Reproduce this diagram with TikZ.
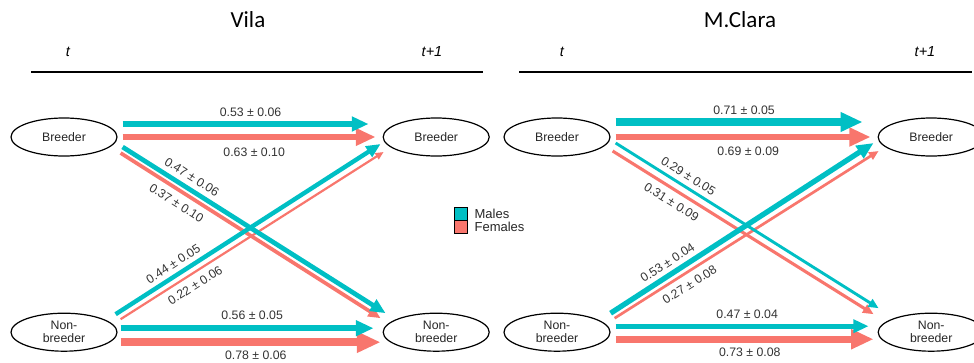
\documentclass[tikz,border=0pt]{standalone}
\usepackage{fontspec}
\setmainfont{Liberation Sans}
\newfontfamily\titlefont{Carlito}
\usetikzlibrary{positioning,shapes.geometric,arrows.meta}
\definecolor{mcol}{HTML}{00BFC4}
\definecolor{fcol}{HTML}{F8766D}

\begin{document}
\begin{tikzpicture}[x=1pt, y=-1pt, > = {Triangle[length=2pt 2.8, width=2pt 2.3]}]
    \tikzset{
      state/.style={draw, ellipse, line width=1.2pt, minimum width=106pt, minimum height=38pt,
        inner sep=0pt, align=center, text=black!85, font=\fontsize{12.3}{13}\selectfont},
      male/.style={->, mcol},
      female/.style={->, fcol},
      lab/.style={inner sep=3pt, text=black!80, font=\fontsize{12.3}{14}\selectfont},
      hdr/.style={font=\fontsize{14.5}{16}\selectfont\itshape},
      ttl/.style={font=\titlefont\fontsize{23}{26}\selectfont},
      legbox/.style={draw, line width=0.8pt, minimum width=13pt, minimum height=13pt, inner sep=0pt},
    }
    \useasboundingbox (0,0) rectangle (974,362);

    % Vila
    \node [ttl] (vila) at (248,20) {Vila};
    \node [hdr] (vt0) at (68,52) {t};
    \node [hdr] (vt1) at (432,52) {t+1};
    \draw [line width=1.3pt] (31,72) -- (483,72);
    \node [state] (vb0) at (64,137) {Breeder};
    \node [state, right=265pt of vb0] (vb1) {Breeder};
    \node [state, below=156pt of vb0] (vn0) {Non-\\breeder};
    \node [state, below=156pt of vb1] (vn1) {Non-\\breeder};

    \draw [female, line width=6.3pt] ([shift={(5,0)}]vb0.east) -- node [lab, below=5pt, pos=.52] (v2) {0.63 ± 0.10} ([shift={(-7,0)}]vb1.west);
    \draw [male, line width=5.3pt] ([shift={(5,-13)}]vb0.east) -- node [lab, above=2pt, pos=.52] (v1) {0.53 ± 0.06} ([shift={(-14,-13)}]vb1.west);
    \draw [female, line width=3.7pt] ([shift={(3,16)}]vb0.east) -- node [lab, sloped, below=3pt, pos=.24] (v4) {0.37 ± 0.10} ([shift={(-2,-14)}]vn1.west);
    \draw [female, line width=2.2pt] ([shift={(3,-13)}]vn0.east) -- node [lab, sloped, below=3pt, pos=.26] (v6) {0.22 ± 0.06} ([shift={(1,15)}]vb1.west);
    \draw [male, line width=4.7pt] ([shift={(5,10)}]vb0.east) -- node [lab, sloped, above=2pt, pos=.24] (v3) {0.47 ± 0.06} ([shift={(3,-19)}]vn1.west);
    \draw [male, line width=4.4pt] ([shift={(-2,-18)}]vn0.east) -- node [lab, sloped, above=1.5pt, pos=.24] (v5) {0.44 ± 0.05} ([shift={(-2,7)}]vb1.west);
    \draw [female, line width=7.8pt] ([shift={(3,10)}]vn0.east) -- node [lab, below=1.5pt, pos=.52] (v8) {0.78 ± 0.06} ([shift={(-2,10)}]vn1.west);
    \draw [male, line width=5.6pt] ([shift={(3,-4)}]vn0.east) -- node [lab, above=3pt, pos=.52] (v7) {0.56 ± 0.05} ([shift={(-9,-4)}]vn1.west);

    % legend
    \node [legbox, fill=mcol] (mbox) at (460.5,213.5) {};
    \node [legbox, fill=fcol, below=0pt of mbox] (fbox) {};
    \node [lab, text=black!85, font=\fontsize{13}{15}\selectfont, right=4pt of mbox] (mtxt) {Males};
    \node [lab, text=black!85, font=\fontsize{13}{15}\selectfont, right=4pt of fbox] (ftxt) {Females};

    % M.Clara
    \node [ttl] (mcla) at (740,20) {M.Clara};
    \node [hdr] (mt0) at (562,52) {t};
    \node [hdr] (mt1) at (925,52) {t+1};
    \draw [line width=1.3pt] (519,72) -- (972,72);
    \node [state] (mb0) at (557,137) {Breeder};
    \node [state, right=267pt of mb0] (mb1) {Breeder};
    \node [state, below=156pt of mb0] (mn0) {Non-\\breeder};
    \node [state, below=156pt of mb1] (mn1) {Non-\\breeder};

    \draw [female, line width=6.9pt] ([shift={(5,0)}]mb0.east) -- node [lab, below=3pt, pos=.52] (m2) {0.69 ± 0.09} ([shift={(-7,0)}]mb1.west);
    \draw [male, line width=7.1pt] ([shift={(5,-15)}]mb0.east) -- node [lab, above=1pt, pos=.52] (m1) {0.71 ± 0.05} ([shift={(-15,-15)}]mb1.west);
    \draw [female, line width=3.1pt] ([shift={(2,14)}]mb0.east) -- node [lab, sloped, below=3pt, pos=.25] (m4) {0.31 ± 0.09} ([shift={(-4,-18)}]mn1.west);
    \draw [female, line width=2.7pt] ([shift={(4,-14)}]mn0.east) -- node [lab, sloped, below=3pt, pos=.26] (m6) {0.27 ± 0.08} ([shift={(1,14)}]mb1.west);
    \draw [male, line width=2.9pt] ([shift={(5,6)}]mb0.east) -- node [lab, sloped, above=2pt, pos=.255] (m3) {0.29 ± 0.05} ([shift={(1,-24)}]mn1.west);
    \draw [male, line width=5.3pt] ([shift={(0,-19)}]mn0.east) -- node [lab, sloped, above=1.5pt, pos=.24] (m5) {0.53 ± 0.04} ([shift={(-4,6)}]mb1.west);
    \draw [female, line width=7.3pt] ([shift={(5,7)}]mn0.east) -- node [lab, below=2pt, pos=.52] (m8) {0.73 ± 0.08} ([shift={(-4,7)}]mn1.west);
    \draw [male, line width=4.7pt] ([shift={(5,-6)}]mn0.east) -- node [lab, above=2pt, pos=.52] (m7) {0.47 ± 0.04} ([shift={(-9,-6)}]mn1.west);

  \end{tikzpicture}
\end{document}
